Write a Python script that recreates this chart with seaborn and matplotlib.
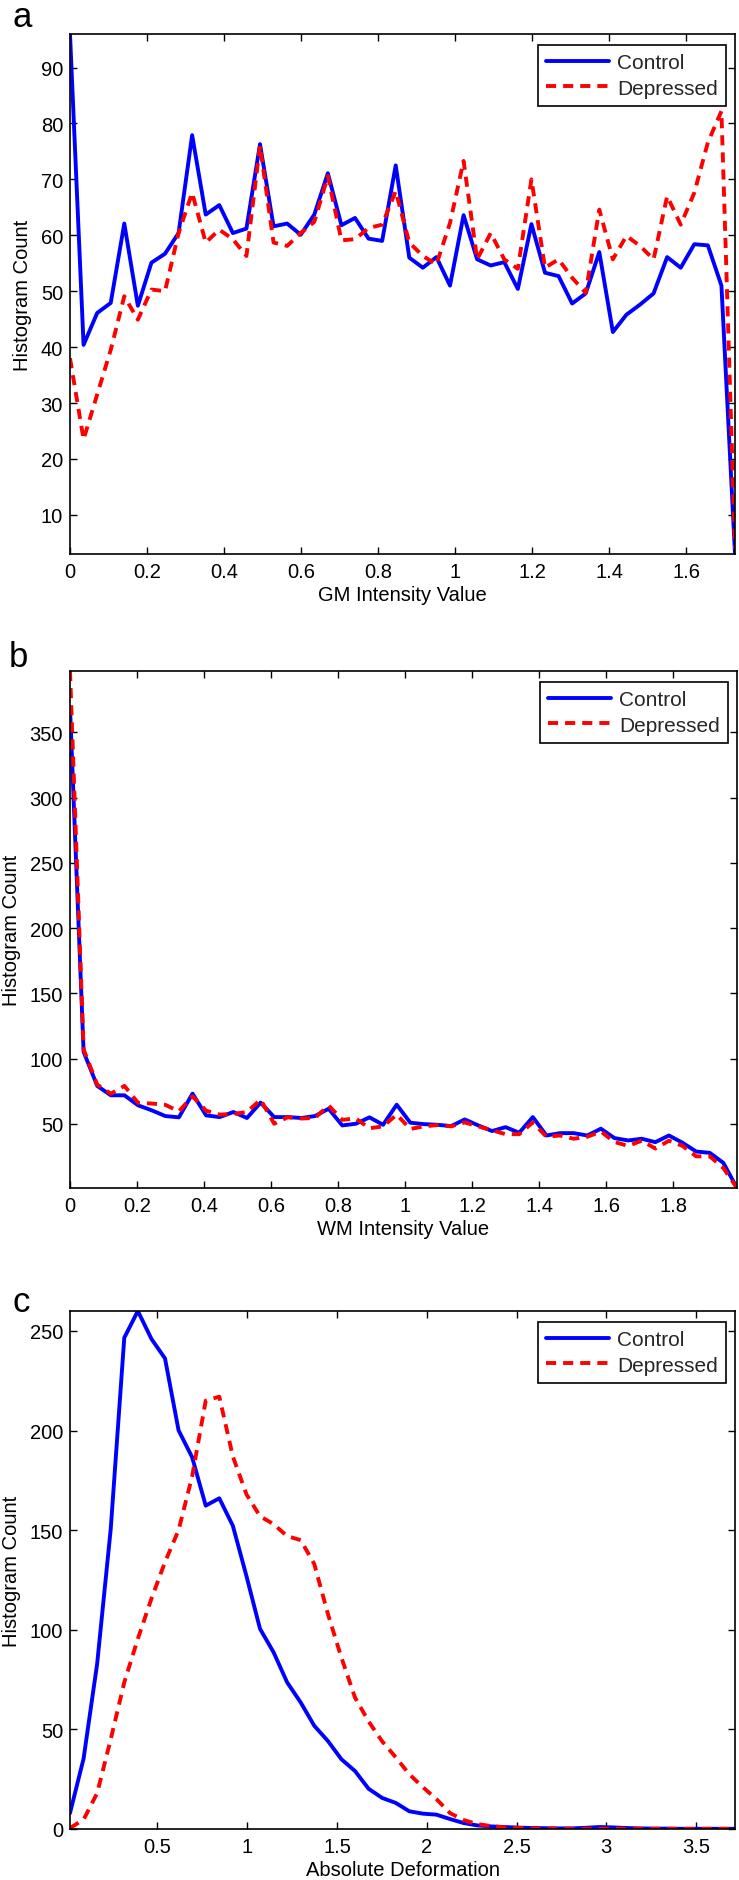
import numpy as np
import pandas as pd
import matplotlib
matplotlib.use('Agg')
import matplotlib.pyplot as plt
import matplotlib.ticker as ticker
import seaborn as sns

# panel a - GM intensity histogram (50 bins)
gm_x = np.linspace(0, 1.727, 50)
gm_control = [96, 40.4, 46.1, 47.9, 62.1, 47.4, 55.1, 56.7, 60.4, 77.9,
              63.7, 65.4, 60.4, 61.2, 76.3, 61.6, 62.1, 60.1, 63.7, 71.1,
              61.8, 63.1, 59.4, 59.0, 72.5, 56.0, 54.2, 56.1, 51.0, 63.6,
              55.7, 54.6, 55.2, 50.4, 62.0, 53.3, 52.7, 47.8, 49.6, 57.0,
              42.7, 45.8, 47.6, 49.6, 56.1, 54.2, 58.4, 58.2, 51.0, 3.0]
gm_depressed = [38, 23.5, 31.5, 39.5, 49.1, 44.9, 50.3, 50.0, 60.4, 67.6,
                58.7, 61.0, 59.3, 56.3, 76.0, 58.7, 58.1, 60.4, 62.4, 70.6,
                59.1, 59.3, 61.3, 61.9, 67.9, 58.7, 56.3, 54.8, 62.2, 73.3,
                55.7, 60.4, 55.7, 54.0, 70.0, 54.2, 55.7, 52.4, 49.7, 64.6,
                55.7, 59.9, 58.1, 55.7, 67.0, 61.9, 67.6, 76.6, 82.2, 4.0]

# panel b - WM intensity histogram
wm_x = np.linspace(0, 1.99, 50)
wm_control = [369, 105.1, 79, 71.8, 71.8, 64.1, 60.3, 55.9, 54.9, 73.1,
              56.4, 55.1, 59, 54.4, 66.2, 55.1, 55.1, 54.4, 55.9, 61.5,
              48.7, 50, 54.9, 49.2, 64.6, 50.8, 49.7, 49.2, 48.2, 53.3,
              48.7, 44.4, 47.4, 43.1, 55.1, 41, 42.8, 42.8, 41, 46.2,
              39, 37.2, 38.5, 35.9, 41, 35.4, 28.7, 27.7, 20, 0.75]
wm_depressed = [397, 107, 80, 73, 79, 66, 65.5, 64.5, 59.5, 71,
                60, 57, 57.5, 59, 68.5, 50, 55, 54, 54.5, 64,
                53, 54, 46.5, 48, 57, 46, 48, 49, 48, 51,
                48, 45, 42, 42, 51, 40, 41, 38.5, 40, 44,
                36, 33, 37, 31, 37, 33, 25, 25, 16, 0.75]

# panel c - absolute deformation histogram
def_x = np.linspace(0.013, 3.717, 50)
def_control = [8, 35.3, 82.9, 150.5, 246.6, 260, 246, 236.2, 200.1, 186.6,
               162.3, 166, 152.2, 127, 100.5, 88.7, 73.6, 63.5, 51.8, 44.2,
               35, 29.1, 20.2, 15.6, 13.1, 8.9, 7.7, 7.2, 5, 3,
               1.8, 1.3, 1, 0.7, 0.5, 0.4, 0.3, 0.3, 0.6, 1,
               0.8, 0.5, 0.3, 0.2, 0.2, 0.1, 0.1, 0.1, 0.1, 0.1]
def_depressed = [0.5, 4.7, 18, 45, 73.6, 95.5, 115.6, 134, 150, 177,
                 215, 217, 187, 168, 157, 153, 147, 145, 133, 108,
                 86, 66, 54, 44, 36, 27.5, 21, 15, 8, 4.5,
                 2.5, 1.5, 0.8, 0.5, 0.3, 0.2, 0.2, 0.1, 0.1, 0.1,
                 0.1, 0.1, 0.1, 0.1, 0.1, 0.1, 0.1, 0.1, 0.1, 0.1]

sns.set_theme(style='white')
plt.rcParams['font.family'] = ['Liberation Sans', 'DejaVu Sans']

W, H = 739, 1881
fig = plt.figure(figsize=(W / 100, H / 100), dpi=100)

colors = {'Control': '#0000ff', 'Depressed': '#ff0000'}
dashes = {'Control': '', 'Depressed': (2.6, 1.8)}


def panel(left, top, right, bottom, x, ctrl, dep, xlabel, xticks, yticks, xlim, ylim):
    ax = fig.add_axes([left / W, 1 - bottom / H, (right - left) / W, (bottom - top) / H])
    n = len(x)
    df = pd.DataFrame({'x': np.concatenate([x, x]),
                       'count': np.concatenate([ctrl, dep]),
                       'group': ['Control'] * n + ['Depressed'] * n})
    sns.lineplot(data=df, x='x', y='count', hue='group', style='group',
                 palette=colors, dashes=dashes, linewidth=2.8, ax=ax)
    ax.set_xlim(*xlim)
    ax.set_ylim(*ylim)
    ax.set_xticks(xticks)
    ax.set_yticks(yticks)
    fmt = ticker.FuncFormatter(lambda v, p: '%g' % round(v, 3))
    ax.xaxis.set_major_formatter(fmt)
    ax.yaxis.set_major_formatter(fmt)
    ax.tick_params(direction='in', top=True, right=True, bottom=True, left=True,
                   length=5, width=1, labelsize=14.5, colors='black')
    ax.tick_params(axis='x', pad=6)
    ax.tick_params(axis='y', pad=5)
    for s in ax.spines.values():
        s.set_color('black')
        s.set_linewidth(1.2)
    ax.set_xlabel(xlabel, fontsize=14.5, labelpad=3, color='black')
    ax.set_ylabel('Histogram Count', fontsize=14.5, labelpad=6, color='black')

    old = ax.get_legend()
    handles = old.legend_handles
    labels = [t.get_text() for t in old.get_texts()]
    old.remove()
    leg = ax.legend(handles, labels, loc='upper right',
                    bbox_to_anchor=(1 - 9 / (right - left), 1 - 11 / (bottom - top)),
                    borderaxespad=0, fontsize=15, frameon=True, fancybox=False,
                    framealpha=1, edgecolor='black', handlelength=3.0,
                    handletextpad=0.4, labelspacing=0.3, borderpad=0.4)
    leg.get_frame().set_linewidth(1.2)
    for line, lab in zip(leg.get_lines(), labels):
        line.set_linewidth(2.8)
        line.set_color(colors[lab])
        if lab == 'Depressed':
            line.set_dashes((2.6, 1.8))
    return ax


panel(70, 35, 735, 555, gm_x, gm_control, gm_depressed, 'GM Intensity Value',
      np.arange(0, 1.61, 0.2), np.arange(10, 91, 10), (0, 1.727),
      (min(min(gm_control), min(gm_depressed)), max(max(gm_control), max(gm_depressed))))

panel(70, 672, 737, 1189, wm_x, wm_control, wm_depressed, 'WM Intensity Value',
      np.arange(0, 1.81, 0.2), np.arange(50, 351, 50), (0, 1.99),
      (min(min(wm_control), min(wm_depressed)), max(max(wm_control), max(wm_depressed))))

panel(70, 1312, 735, 1830, def_x, def_control, def_depressed, 'Absolute Deformation',
      np.arange(0.5, 3.51, 0.5), np.arange(0, 251, 50), (0.013, 3.717),
      (0, max(max(def_control), max(def_depressed))))

for letter, px, py in [('a', 12, 27), ('b', 9, 667), ('c', 12, 1312)]:
    fig.text(px / W, 1 - py / H, letter, fontsize=25, color='black',
             ha='left', va='baseline')

fig.savefig('out.png', dpi=100)
